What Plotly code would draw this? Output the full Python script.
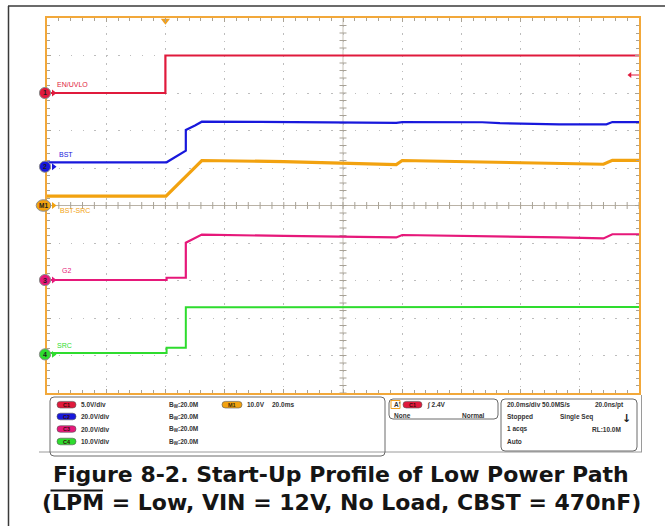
import numpy as np
import plotly.graph_objects as go

# ---------------- acquisition data ----------------
# time base: 20 ms/div, 10 divisions, trigger 2 divisions from the left
T_START, T_END = -40.0, 160.0

# CH1  EN/UVLO  (5 V/div)
t_en = [-40, 0, 0, 160]
v_en = [0.0, 0.0, 5.0, 5.0]

# CH2  BST  (20 V/div)
t_bst = [-40, 0.4, 6.9, 6.9, 10.0, 12.3, 32, 78, 80, 107, 113, 133, 149, 151, 160]
v_bst = [2.35, 2.35, 8.5, 19.6, 22.0, 24.0, 23.9, 23.4, 23.8, 23.7, 23.2, 22.6, 22.6, 23.8, 23.8]

# M1  BST-SRC  (10 V/div)
t_bs = [-40, 0.2, 12.3, 40, 78, 80, 107, 133, 148, 151, 160]
v_bs = [2.5, 2.5, 12.0, 11.7, 10.9, 12.0, 11.6, 11.2, 11.0, 12.05, 12.05]

# CH3  G2  (20 V/div)
t_g2 = [-40, 0.4, 0.4, 6.9, 6.9, 10.0, 12.3, 40, 78, 80, 107, 133, 148, 151, 160]
v_g2 = [0.0, 0.0, 1.2, 1.2, 19.9, 22.6, 24.2, 23.5, 22.7, 24.0, 23.5, 22.7, 22.2, 24.4, 24.4]

# CH4  SRC  (10 V/div)
t_src = [-40, 0.4, 0.4, 6.9, 6.9, 160]
v_src = [0.4, 0.4, 1.75, 1.75, 12.55, 12.65]

labels = ["EN/UVLO", "BST", "BST-SRC", "G2", "SRC"]
badges = ["1", "2", "M1", "3", "4"]
volts_per_div = [5.0, 20.0, 10.0, 20.0, 10.0]
ref_offset_div = [3.0, 1.035, 0.0, -1.987, -3.97]
colors = ["#e01a3c", "#1818dc", "#f2a20f", "#e6187a", "#2edc2e"]
widths = [2.2, 2.2, 3.2, 2.2, 2.0]
series_t = [t_en, t_bst, t_bs, t_g2, t_src]
series_v = [v_en, v_bst, v_bs, v_g2, v_src]

trigger_level = 2.4  # CH1 rising edge

panel_rows = ["5.0V/div", "20.0V/div", "20.0V/div", "10.0V/div"]
panel_pills = ["C1", "C2", "C3", "C4"]

caption1 = "Figure 8-2. Start-Up Profile of Low Power Path"
caption2 = "(LPM = Low, VIN = 12V, No Load, CBST = 470nF)"

# ---------------- page geometry ----------------
W, H = 665, 526
L, R, T, B = 47, 639, 18, 393
Y_MIN, Y_MAX = -5.0, 5.0


def X(px):
    return (px - L) / (R - L)


def Y(py):
    return (B - py) / (B - T)


def t_of(px):
    return T_START + (px - L) / (R - L) * (T_END - T_START)


def py_of_div(d):
    return B - (d - Y_MIN) / (Y_MAX - Y_MIN) * (B - T)


def rrect(x0, y0, x1, y1, r):
    return (f"M {X(x0 + r)},{Y(y0)} L {X(x1 - r)},{Y(y0)} Q {X(x1)},{Y(y0)} {X(x1)},{Y(y0 + r)} "
            f"L {X(x1)},{Y(y1 - r)} Q {X(x1)},{Y(y1)} {X(x1 - r)},{Y(y1)} "
            f"L {X(x0 + r)},{Y(y1)} Q {X(x0)},{Y(y1)} {X(x0)},{Y(y1 - r)} "
            f"L {X(x0)},{Y(y0 + r)} Q {X(x0)},{Y(y0)} {X(x0 + r)},{Y(y0)} Z")


fig = go.Figure()

GRID = "#bdbdbd"
TICK = "#a8a296"
FRAME = "#f2a83a"

# centre crosshair tick marks
xt = np.arange(T_START, T_END + 0.01, 4.0)
fig.add_trace(go.Scatter(x=xt, y=np.zeros_like(xt), mode="markers", hoverinfo="skip",
                         marker=dict(symbol="line-ns", size=5, line=dict(color=TICK, width=1))))
yt = np.arange(-5, 5.01, 0.2)
fig.add_trace(go.Scatter(x=np.full_like(yt, 60.0), y=yt, mode="markers", hoverinfo="skip",
                         marker=dict(symbol="line-ew", size=5, line=dict(color=TICK, width=1))))

# waveforms
for t, v, s, off, c, w in zip(series_t, series_v, volts_per_div, ref_offset_div, colors, widths):
    y = [off + vv / s for vv in v]
    fig.add_trace(go.Scatter(x=t, y=y, mode="lines", line=dict(color=c, width=w), hoverinfo="skip"))

shapes = []

# channel reference badges on the left edge
for lab, b, off, c in zip(labels, badges, ref_offset_div, colors):
    fig.add_trace(go.Scatter(x=[t_of(53.5)], y=[off], mode="markers", cliponaxis=False, hoverinfo="skip",
                             marker=dict(symbol="triangle-right", size=6, color=c)))
    cy = py_of_div(off)
    if b == "M1":
        cx, rx, ry = 43.5, 7.3, 5.8
    else:
        cx, rx, ry = 45.0, 5.6, 5.6
    shapes.append(dict(type="circle", xref="paper", yref="paper",
                       x0=X(cx - rx), x1=X(cx + rx), y0=Y(cy + ry), y1=Y(cy - ry),
                       fillcolor=c, line=dict(color="#8c8c8c", width=1)))
    fig.add_annotation(x=X(cx), y=Y(cy), xref="paper", yref="paper", text=b, showarrow=False,
                       xanchor="center", yanchor="middle",
                       font=dict(size=7 if b != "M1" else 6.5, color="#1e1e1e",
                                 family="Liberation Sans", weight="bold"))

# channel names
label_px = [(55, 84), (57, 154), (58, 211), (60, 270), (55, 345)]
for lab, (lx, ly), c in zip(labels, label_px, colors):
    fig.add_annotation(x=X(lx), y=Y(ly), xref="paper", yref="paper", text=lab, showarrow=False,
                       xanchor="left", yanchor="middle",
                       font=dict(size=7, color=c, family="Liberation Sans"))

# trigger position marker and trigger level marker
fig.add_trace(go.Scatter(x=[0], y=[4.93], mode="markers", cliponaxis=False, hoverinfo="skip",
                         marker=dict(symbol="triangle-down", size=8, color="#f0a020")))
trig_y = ref_offset_div[0] + trigger_level / volts_per_div[0]
fig.add_trace(go.Scatter(x=[t_of(630), T_END], y=[trig_y, trig_y], mode="lines", hoverinfo="skip",
                         line=dict(color=colors[0], width=1)))
fig.add_trace(go.Scatter(x=[t_of(630)], y=[trig_y], mode="markers", hoverinfo="skip",
                         marker=dict(symbol="triangle-left", size=5, color=colors[0])))

axis_common = dict(showline=True, linecolor=FRAME, linewidth=2, mirror="allticks",
                   showticklabels=False, ticks="inside", tickcolor=TICK, ticklen=4,
                   fixedrange=True)
fig.update_xaxes(range=[T_START, T_END], dtick=20, tick0=T_START, showgrid=True, gridcolor=GRID,
                 griddash="1.5px,6px", gridwidth=1, zeroline=False,
                 minor=dict(dtick=4, tick0=T_START, ticks="inside", ticklen=3, tickcolor=TICK),
                 **axis_common)
fig.update_yaxes(range=[Y_MIN, Y_MAX], dtick=1, tick0=Y_MIN, showgrid=True, gridcolor=GRID,
                 griddash="1.5px,10.34px", gridwidth=1, zeroline=True, zerolinecolor="#b9b2a6",
                 zerolinewidth=1,
                 minor=dict(dtick=0.2, tick0=Y_MIN, ticks="inside", ticklen=3, tickcolor=TICK),
                 **axis_common)

# centre vertical line
shapes.append(dict(type="line", xref="x", yref="y", x0=60, x1=60, y0=Y_MIN, y1=Y_MAX,
                   line=dict(color="#c9c3b8", width=1), layer="below"))
# outer document frame
shapes.append(dict(type="line", xref="paper", yref="paper", x0=X(8), x1=X(665), y0=Y(6), y1=Y(6),
                   line=dict(color="#3a3a3a", width=1.5)))
shapes.append(dict(type="line", xref="paper", yref="paper", x0=X(8.5), x1=X(8.5), y0=Y(6), y1=Y(526),
                   line=dict(color="#3a3a3a", width=1.5)))
# screen bottom edge
shapes.append(dict(type="line", xref="paper", yref="paper", x0=X(39), x1=X(642), y0=Y(452), y1=Y(452),
                   line=dict(color="#9a9a9a", width=1)))
shapes.append(dict(type="line", xref="paper", yref="paper", x0=X(641.5), x1=X(641.5), y0=Y(395), y1=Y(452),
                   line=dict(color="#9a9a9a", width=1)))
# readout boxes
for (x0, y0, x1, y1) in [(50, 397, 385, 456), (389, 399, 498, 419), (501, 399, 637, 451)]:
    shapes.append(dict(type="path", xref="paper", yref="paper", path=rrect(x0, y0, x1, y1, 4),
                       line=dict(color="#6a6a6a", width=1)))

INFO = dict(size=6.5, color="#333333", family="Liberation Sans", weight="bold")
row_y = [404.7, 416.5, 429.0, 441.5]
pill_colors = [colors[0], colors[1], colors[3], colors[4]]
for ry, txt, pl, pc in zip(row_y, panel_rows, panel_pills, pill_colors):
    shapes.append(dict(type="path", xref="paper", yref="paper", path=rrect(57, ry - 3.3, 76, ry + 3.3, 3.3),
                       fillcolor=pc, line=dict(color="#555", width=0.6)))
    fig.add_annotation(x=X(66.5), y=Y(ry), xref="paper", yref="paper", text=pl, showarrow=False,
                       xanchor="center", yanchor="middle",
                       font=dict(size=5.5, color="#3a0a0a", family="Liberation Sans", weight="bold"))
    fig.add_annotation(x=X(79), y=Y(ry), xref="paper", yref="paper", text=txt, showarrow=False,
                       xanchor="left", yanchor="middle", font=INFO)
    fig.add_annotation(x=X(167), y=Y(ry), xref="paper", yref="paper", text="B<sub>W</sub>:20.0M",
                       showarrow=False, xanchor="left", yanchor="middle", font=INFO)

# math channel readout
shapes.append(dict(type="path", xref="paper", yref="paper", path=rrect(222, 401.4, 242, 408, 3.3),
                   fillcolor=colors[2], line=dict(color="#555", width=0.6)))
fig.add_annotation(x=X(232), y=Y(404.7), xref="paper", yref="paper", text="M1", showarrow=False,
                   xanchor="center", yanchor="middle",
                   font=dict(size=5.5, color="#3a2a0a", family="Liberation Sans", weight="bold"))
fig.add_annotation(x=X(245), y=Y(404.7), xref="paper", yref="paper", text="10.0V", showarrow=False,
                   xanchor="left", yanchor="middle", font=INFO)
fig.add_annotation(x=X(270), y=Y(404.7), xref="paper", yref="paper", text="20.0ms", showarrow=False,
                   xanchor="left", yanchor="middle", font=INFO)

# trigger readout
shapes.append(dict(type="rect", xref="paper", yref="paper", x0=X(391), x1=X(400), y0=Y(400.5), y1=Y(408.5),
                   line=dict(color="#f0a020", width=1)))
fig.add_annotation(x=X(392), y=Y(404.5), xref="paper", yref="paper", text="A'", showarrow=False,
                   xanchor="left", yanchor="middle", font=INFO)
shapes.append(dict(type="path", xref="paper", yref="paper", path=rrect(403, 401.4, 422, 408, 3.3),
                   fillcolor=colors[0], line=dict(color="#555", width=0.6)))
fig.add_annotation(x=X(412.5), y=Y(404.7), xref="paper", yref="paper", text="C1", showarrow=False,
                   xanchor="center", yanchor="middle",
                   font=dict(size=5.5, color="#3a0a0a", family="Liberation Sans", weight="bold"))
fig.add_annotation(x=X(425), y=Y(404.5), xref="paper", yref="paper", text="∫ 2.4V", showarrow=False,
                   xanchor="left", yanchor="middle", font=INFO)
fig.add_annotation(x=X(392), y=Y(415.5), xref="paper", yref="paper", text="None", showarrow=False,
                   xanchor="left", yanchor="middle", font=INFO)
fig.add_annotation(x=X(487), y=Y(415.5), xref="paper", yref="paper", text="Normal", showarrow=False,
                   xanchor="right", yanchor="middle", font=INFO)

# acquisition readout
acq = [(505, 404.5, "20.0ms/div 50.0MS/s"), (593, 404.5, "20.0ns/pt"),
       (505, 416.5, "Stopped"), (558, 416.5, "Single Seq"),
       (505, 429.0, "1 acqs"), (590, 429.0, "RL:10.0M"), (505, 441.5, "Auto")]
for ax_, ay_, txt in acq:
    fig.add_annotation(x=X(ax_), y=Y(ay_), xref="paper", yref="paper", text=txt, showarrow=False,
                       xanchor="left", yanchor="middle", font=INFO)
fig.add_annotation(x=X(626), y=Y(418), xref="paper", yref="paper", text="↓", showarrow=False,
                   xanchor="center", yanchor="middle",
                   font=dict(size=11, color="#222", family="DejaVu Sans", weight="bold"))

# figure caption
CAP = dict(size=22, color="#151515", family="DejaVu Sans", weight="bold")
fig.add_annotation(x=X(341), y=Y(474), xref="paper", yref="paper", text=caption1, showarrow=False,
                   xanchor="center", yanchor="middle", font=CAP)
fig.add_annotation(x=X(341), y=Y(502), xref="paper", yref="paper", text=caption2, showarrow=False,
                   xanchor="center", yanchor="middle", font=CAP)
# overbar on LPM
shapes.append(dict(type="line", xref="paper", yref="paper", x0=X(50.5), x1=X(103), y0=Y(490.5), y1=Y(490.5),
                   line=dict(color="#151515", width=2)))

fig.update_layout(width=W, height=H, margin=dict(l=L, r=W - R, t=T, b=H - B),
                  paper_bgcolor="white", plot_bgcolor="white", showlegend=False,
                  shapes=shapes)

fig.write_html("out.html")
